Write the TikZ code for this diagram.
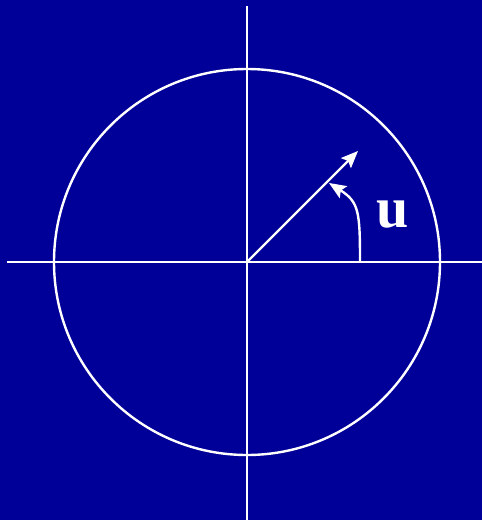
\documentclass[tikz,border=0pt]{standalone}
\usepackage{fontspec}
\setmainfont{Liberation Serif}
\usetikzlibrary{arrows.meta}
\definecolor{slideblue}{HTML}{000099}

\begin{document}
\begin{tikzpicture}[
  x=1pt, y=-1pt,
  axis/.style={draw=white, line width=2.4pt},
  vec/.style={draw=white, line width=2.4pt, -{Stealth[length=17pt,width=14pt,inset=3pt]}},
  lbl/.style={text=white, font=\bfseries\fontsize{58}{66}\selectfont, inner sep=0pt}
]

\fill[slideblue] (0,0) rectangle (482,520);
\useasboundingbox (0,0) rectangle (482,520);

\coordinate (O) at (247,262);
\coordinate (left) at (7,262);
\coordinate (right) at (482,262);
\coordinate (top) at (247,6);
\coordinate (bottom) at (247,520);
\coordinate (tip) at (358,151);
\coordinate (start) at (360,262);
\coordinate (end) at (329,183);

\draw[axis] (left) -- (right);
\draw[axis] (top) -- (bottom);
\draw[axis] (O) circle[radius=193];

\draw[vec] (O) -- (tip);
\draw[vec] (start) .. controls (360,212) and (359,202) .. (end);

\node[lbl] (u) at (393,215) {u};

\end{tikzpicture}
\end{document}
